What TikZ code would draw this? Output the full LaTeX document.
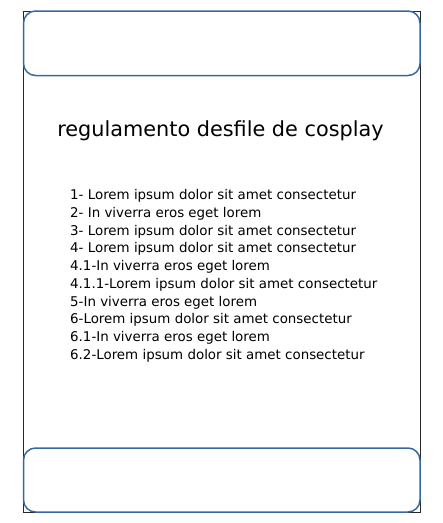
\documentclass[tikz,border=0pt]{standalone}
\usepackage{fontspec}
\setmainfont{DejaVu Sans}
\definecolor{boxblue}{RGB}{55,105,160}
\definecolor{inkgray}{RGB}{40,40,40}
\begin{document}
\begin{tikzpicture}[x=1pt,y=-1pt,
  frame/.style={draw=inkgray,line width=0.8pt},
  band/.style={draw=boxblue,line width=1.5pt,fill=white,rounded corners=12pt},
  titletext/.style={font=\fontsize{20.8}{25}\selectfont,text=black,inner sep=0pt},
  listtext/.style={font=\fontsize{13.4}{17.7}\selectfont,text=black,inner sep=0pt,align=left,anchor=north west}]
\useasboundingbox (0,0) rectangle (443,523);
\draw[frame] (23.5,11) rectangle (420.5,512);
\draw[band] (23.5,11) rectangle (420,75.5);
\draw[band] (23.5,448) rectangle (420,512);
\node[titletext] (title) at (220.5,131) {regulamento desfile de cosplay};
\node[listtext] (list) at (70,189.5) {1- Lorem ipsum dolor sit amet consectetur\\
2- In viverra eros eget lorem\\
3- Lorem ipsum dolor sit amet consectetur\\
4- Lorem ipsum dolor sit amet consectetur\\
4.1-In viverra eros eget lorem\\
4.1.1-Lorem ipsum dolor sit amet consectetur\\
5-In viverra eros eget lorem\\
6-Lorem ipsum dolor sit amet consectetur\\
6.1-In viverra eros eget lorem\\
6.2-Lorem ipsum dolor sit amet consectetur};
\end{tikzpicture}
\end{document}
